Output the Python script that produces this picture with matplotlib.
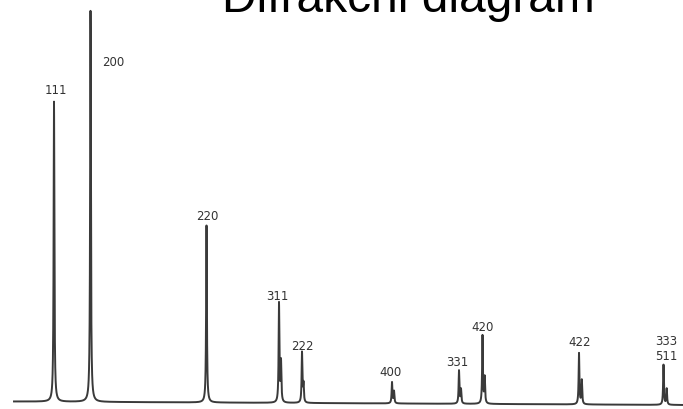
import numpy as np
import matplotlib
matplotlib.use("Agg")
from matplotlib import pyplot as plt

# peak data (x position on the strip, peak height, reflection label)
labels = ["111", "200", "220", "311", "222", "400", "331", "420", "422", "333\n511"]
pos = [54, 90.5, 206.5, 279, 302, 392, 459, 482.5, 579, 663.5]
height = [300, 391, 177, 99, 50, 21, 33, 68, 51, 40]
# k-alpha2 shoulder: offset from main peak and height
ka2_off = [0.0, 0.0, 0.0, 2.0, 1.5, 2.0, 2.0, 2.2, 2.8, 3.2]
ka2_h = [0, 0, 0, 40, 18, 12, 14, 26, 24, 16]
# label centres (x, y)
lab_x = [56, 113, 207, 277, 302, 391, 457, 483, 580, 666]
lab_y = [319, 348, 193, 113, 63, 37, 47, 82, 67, 61]

base_left = 7.5
base_right = 4.0
gamma = 0.45

x = np.arange(14, 684, 0.05)
y = base_left + (base_right - base_left) * (x - 14) / (683 - 14)
for p, h, o, h2 in zip(pos, height, ka2_off, ka2_h):
    y = y + h * gamma**2 / ((x - p)**2 + gamma**2)
    if h2 > 0:
        y = y + h2 * gamma**2 / ((x - p - o)**2 + gamma**2)

fig = plt.figure(figsize=(6.83, 4.10), dpi=100)
ax = fig.add_axes([0, 0, 1, 1])
ax.plot(x, y, color="#3a3a3a", lw=1.4)

for t, lx, ly in zip(labels, lab_x, lab_y):
    ax.text(lx, ly, t, ha="center", va="center", fontsize=8.5,
            color="#333333", family="DejaVu Sans", linespacing=1.15)

ax.text(408, 398, "Difrakchi diagram", ha="center", va="baseline",
        fontsize=34.5, family="Liberation Sans", color="black")

ax.set_xlim(0, 683)
ax.set_ylim(0, 410)
ax.axis("off")

fig.savefig("out.png", dpi=100)
